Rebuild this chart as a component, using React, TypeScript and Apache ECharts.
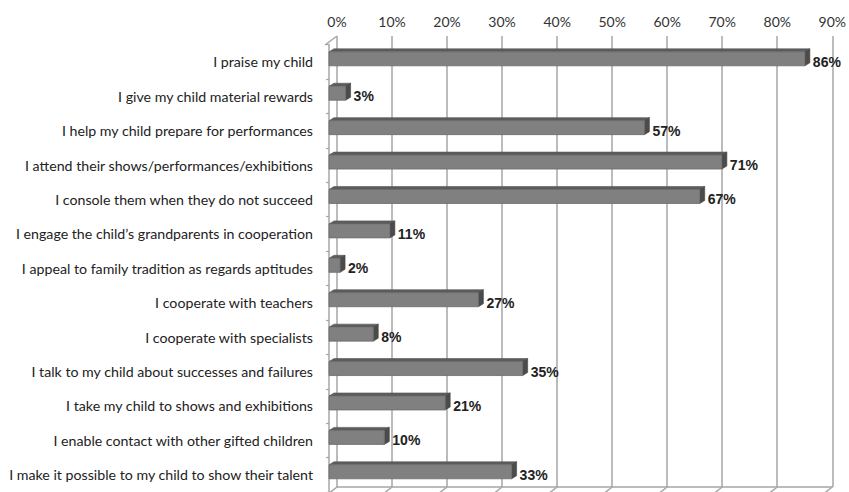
import React, { useEffect, useRef } from "react";
import * as echarts from "echarts";

const categories: string[] = [
  "I praise my child",
  "I give my child material rewards",
  "I help my child prepare for performances",
  "I attend their shows/performances/exhibitions",
  "I console them when they do not succeed",
  "I engage the child’s grandparents in cooperation",
  "I appeal to family tradition as regards aptitudes",
  "I cooperate with teachers",
  "I cooperate with specialists",
  "I talk to my child about successes and failures",
  "I take my child to shows and exhibitions",
  "I enable contact with other gifted children",
  "I make it possible to my child to show their talent",
];
const values: number[] = [86, 3, 57, 71, 67, 11, 2, 27, 8, 35, 21, 10, 33];
const ticks: number[] = [0, 10, 20, 30, 40, 50, 60, 70, 80, 90];

const GRID_COLOR = "#a6a6a6";

export default function App() {
  const ref = useRef<HTMLDivElement>(null);
  useEffect(() => {
    document.body.style.margin = "0";
    const chart = echarts.init(ref.current!, undefined, { renderer: "svg" });
    chart.setOption({
      animation: false,
      backgroundColor: "#ffffff",
      grid: [
        { left: 337, right: 14, top: 36, bottom: 5 },
        { left: 329, right: 22, top: 44.6, bottom: -4.4 },
      ],
      xAxis: [
        {
          gridIndex: 0,
          type: "value",
          min: 0,
          max: 90,
          interval: 10,
          position: "top",
          axisLine: { show: true, lineStyle: { color: GRID_COLOR, width: 1.5 } },
          axisTick: { show: false },
          axisLabel: {
            formatter: "{value}%",
            fontFamily: "Lato",
            fontSize: 14,
            color: "#333333",
            margin: 8,
          },
          splitLine: { show: true, lineStyle: { color: GRID_COLOR, width: 1.5 } },
        },
        { gridIndex: 1, type: "value", min: 0, max: 90, show: false },
      ],
      yAxis: [
        { gridIndex: 0, type: "value", min: 0, max: 1, show: false },
        {
          gridIndex: 1,
          type: "category",
          inverse: true,
          data: categories,
          offset: 4,
          axisLine: { show: true, lineStyle: { color: GRID_COLOR, width: 1.5 } },
          axisTick: { show: true, length: 3, lineStyle: { color: GRID_COLOR, width: 1.2 } },
          axisLabel: {
            fontFamily: "Lato",
            fontSize: 14.2,
            color: "#222222",
            margin: 12,
          },
          splitLine: { show: false },
        },
      ],
      series: [
        {
          type: "custom",
          xAxisIndex: 0,
          yAxisIndex: 0,
          silent: true,
          data: ticks.map((t) => [t]),
          renderItem: (params: any, api: any) => {
            const t = api.value(0);
            const top = api.coord([t, 1]);
            const bot = api.coord([t, 0]);
            const children: any[] = [
              {
                type: "line",
                shape: { x1: bot[0], y1: bot[1], x2: bot[0] - 9, y2: bot[1] + 7 },
                style: { stroke: GRID_COLOR, lineWidth: 1.5 },
              },
            ];
            if (t === 0) {
              children.push({
                type: "line",
                shape: { x1: top[0], y1: top[1], x2: top[0] - 12, y2: top[1] + 9 },
                style: { stroke: GRID_COLOR, lineWidth: 1.5 },
              });
            }
            return { type: "group", children };
          },
        },
        {
          type: "custom",
          xAxisIndex: 1,
          yAxisIndex: 1,
          data: values.map((v, i) => [v, i]),
          renderItem: (params: any, api: any) => {
            const v = api.value(0);
            const idx = api.value(1);
            const p0 = api.coord([0, idx]);
            const p1 = api.coord([v, idx]);
            const cy = p0[1];
            const top = cy - 10;
            const bottom = cy + 4;
            const d = 5;
            const dy = 3;
            return {
              type: "group",
              children: [
                {
                  type: "polygon",
                  shape: {
                    points: [
                      [p0[0], top],
                      [p0[0] + d, top - dy],
                      [p1[0] + d, top - dy],
                      [p1[0], top],
                    ],
                  },
                  style: { fill: "#5c5c5c", stroke: "#555555", lineWidth: 0.6 },
                },
                {
                  type: "polygon",
                  shape: {
                    points: [
                      [p1[0], top],
                      [p1[0] + d, top - dy],
                      [p1[0] + d, bottom - dy],
                      [p1[0], bottom],
                    ],
                  },
                  style: { fill: "#4b4b4b", stroke: "#444444", lineWidth: 0.6 },
                },
                {
                  type: "rect",
                  shape: { x: p0[0], y: top, width: p1[0] - p0[0], height: bottom - top },
                  style: { fill: "#808080", stroke: "#6b6b6b", lineWidth: 0.8 },
                },
                {
                  type: "text",
                  style: {
                    text: v + "%",
                    x: p1[0] + d + 3,
                    y: cy,
                    verticalAlign: "middle",
                    align: "left",
                    fontFamily: "Liberation Sans",
                    fontWeight: "bold",
                    fontSize: 14,
                    fill: "#222222",
                  },
                },
              ],
            };
          },
        },
      ],
    });
    return () => chart.dispose();
  }, []);
  return (
    <div
      ref={ref}
      style={{ position: "fixed", left: 0, top: 0, width: 849, height: 492 }}
    />
  );
}
